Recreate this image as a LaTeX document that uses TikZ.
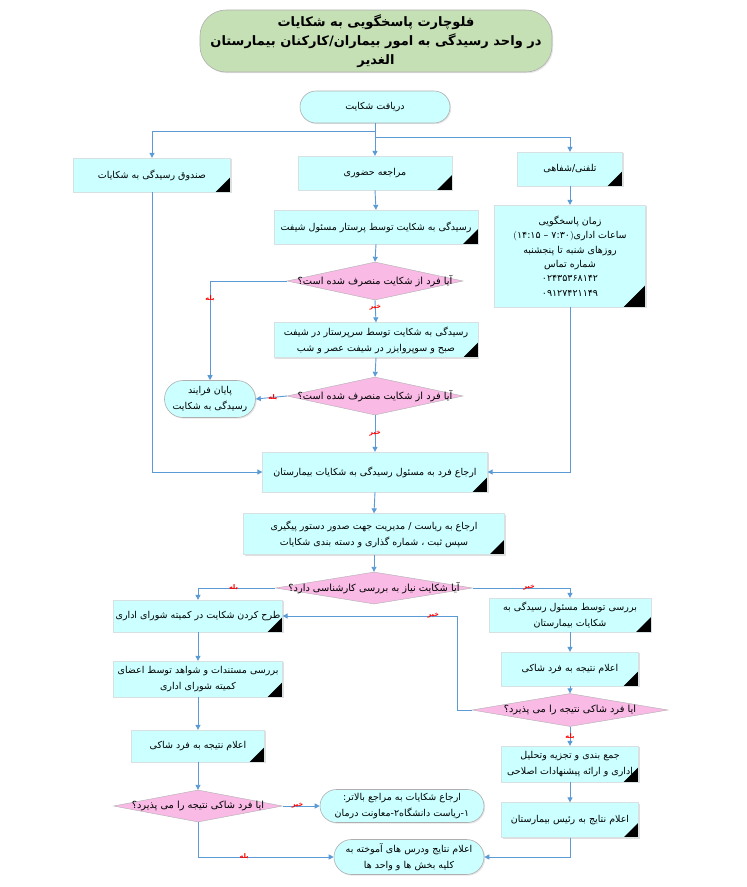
\documentclass[tikz,border=0pt]{standalone}
\usepackage{fontspec}
\newfontfamily\fa[Script=Arabic]{DejaVu Sans}
\TeXXeTstate=1
\usetikzlibrary{
  arrows.meta,      % Triangle arrow tips
  shapes.geometric, % diamond for the decisions
  shapes.misc,      % rounded rectangle for start / end boxes
  shadows,          % soft shadow under the boxes
  positioning       % relative placement
}
\definecolor{boxcyan}{RGB}{204,255,255}
\definecolor{decpink}{RGB}{249,186,230}
\definecolor{titlegreen}{RGB}{197,224,180}
\definecolor{lineblue}{RGB}{91,155,213}
\definecolor{boxedge}{RGB}{215,225,225}
\definecolor{termedge}{RGB}{175,175,175}
\newcommand{\rl}[1]{\beginR #1\endR}
\tikzset{
  flow/.style={
    -{Triangle[length=5pt,width=5pt]},
    draw=lineblue,
    line width=0.9pt
  },
  proc/.style={
    rectangle,
    fill=boxcyan,
    draw=boxedge,
    line width=0.3pt,
    align=center,
    inner sep=2pt,
    font=\fa\fontsize{9.5}{16}\selectfont,
    drop shadow={shadow xshift=1.2pt, shadow yshift=-1.2pt, opacity=0.25},
    path picture={\fill[black] (path picture bounding box.south east) -- ++(0pt,#1) -- ++(-#1,-#1) -- cycle;}
  },
  proc/.default=15pt,
  term/.style={
    rounded rectangle,
    fill=boxcyan,
    draw=termedge,
    line width=0.6pt,
    align=center,
    inner sep=2pt,
    font=\fa\fontsize{9.5}{16}\selectfont,
    drop shadow={shadow xshift=1.2pt, shadow yshift=-1.2pt, opacity=0.2}
  },
  headline/.style={
    rectangle,
    rounded corners=26pt,
    fill=titlegreen,
    draw=termedge,
    line width=0.6pt,
    align=center,
    inner sep=0pt,
    font=\fa\fontsize{13}{19}\selectfont\bfseries,
    drop shadow={shadow xshift=1.2pt, shadow yshift=-1.2pt, opacity=0.2}
  },
  decide/.style={
    diamond,
    fill=decpink,
    draw=termedge,
    line width=0.4pt,
    inner sep=0pt,
    font=\fa\fontsize{9.8}{11}\selectfont
  },
  yesno/.style={
    font=\fa\fontsize{6.5}{6.5}\selectfont\bfseries,
    text=red,
    inner sep=0.5pt
  }
}
\begin{document}
\begin{tikzpicture}[x=1pt, y=-1pt] % pixel grid of the page, y runs downwards
  \path[fill=white, use as bounding box] (0,0) rectangle (747,887); % page frame

  % title
  \node[headline, minimum width=352pt, minimum height=62pt] (title) at (376,41)
    {\rl{فلوچارت پاسخگویی به شکایات}\\\rl{در واحد رسیدگی به امور بیماران/کارکنان بیمارستان}\\\rl{الغدیر}};

  % start and the three ways in
  \node[term, minimum width=154pt, minimum height=32pt] (start) at (375,107) {\rl{دریافت شکایت}};
  \node[proc, minimum width=157pt, minimum height=34pt] (box) at (152,175) {\rl{صندوق رسیدگی به شکایات}};
  \node[proc, minimum width=154pt, minimum height=34pt] (visit) at (375,173) {\rl{مراجعه حضوری}};
  \node[proc, minimum width=105pt, minimum height=34pt] (phone) at (570,169) {\rl{تلفنی/شفاهی}};
  \node[proc=22pt, minimum width=151pt, minimum height=102pt, font=\fa\fontsize{9.5}{14.3}\selectfont] (hours) at (570,256)
    {\rl{زمان پاسخگویی}\\\rl{ساعات اداری\beginL{\normalfont(}۱۴:۱۵ – ۷:۳۰{\normalfont)}\endL}\\\rl{روزهای شنبه تا پنجشنبه}\\\rl{شماره تماس}\\\rl{۰۲۴۳۵۳۶۸۱۴۲}\\\rl{۰۹۱۲۷۴۲۱۱۴۹}};

  % middle column
  \node[proc, minimum width=204pt, minimum height=34pt] (nurse) at (376,227) {\rl{رسیدگی به شکایت توسط پرستار مسئول شیفت}};
  \node[decide, minimum width=176pt, minimum height=38pt] (quit1) at (375,281) {\makebox[0pt]{\rl{آیا فرد از شکایت منصرف شده است؟}}};
  \node[proc, minimum width=204pt, minimum height=35pt] (head) at (376,340)
    {\rl{رسیدگی به شکایت توسط سرپرستار در شیفت}\\\rl{صبح و سوپروایزر در شیفت عصر و شب}};
  \node[decide, minimum width=176pt, minimum height=38pt] (quit2) at (375,396) {\makebox[0pt]{\rl{آیا فرد از شکایت منصرف شده است؟}}};
  \node[term, minimum width=95pt, minimum height=37pt] (stop) at (210,399) {\rl{پایان فرایند}\\\rl{رسیدگی به شکایت}};
  \node[proc, minimum width=225pt, minimum height=40pt] (refer) at (375,472) {\rl{ارجاع فرد به مسئول رسیدگی به شکایات بیمارستان}};
  \node[proc, minimum width=261pt, minimum height=41pt] (chief) at (374,534)
    {\rl{ارجاع  به ریاست / مدیریت  جهت صدور دستور پیگیری}\\\rl{سپس ثبت ، شماره گذاری و دسته بندی شکایات}};
  \node[decide, minimum width=197pt, minimum height=32pt] (expert) at (374,588) {\makebox[0pt]{\rl{آیا شکایت نیاز به بررسی کارشناسی دارد؟}}};

  % left column: committee
  \node[proc, minimum width=169pt, minimum height=32pt] (board) at (198,616) {\rl{طرح کردن شکایت در کمیته شورای اداری}};
  \node[proc, minimum width=169pt, minimum height=36pt] (review) at (198,679)
    {\rl{بررسی مستندات و شواهد توسط اعضای}\\\rl{کمیته شورای اداری}};
  \node[proc, minimum width=133pt, minimum height=32pt] (tellL) at (198,746) {\rl{اعلام نتیجه به فرد شاکی}};
  \node[decide, minimum width=169pt, minimum height=32pt] (acceptL) at (198,806) {\makebox[0pt]{\rl{ایا فرد شاکی نتیجه را می پذیرد؟}}};

  % right column: officer
  \node[proc, minimum width=162pt, minimum height=34pt] (officer) at (570,615)
    {\rl{بررسی توسط مسئول رسیدگی به}\\\rl{شکایات بیمارستان}};
  \node[proc, minimum width=137pt, minimum height=34pt] (tellR) at (570,669) {\rl{اعلام نتیجه به فرد شاکی}};
  \node[decide, minimum width=196pt, minimum height=33pt] (acceptR) at (570,710) {\makebox[0pt]{\rl{ایا فرد شاکی نتیجه را می پذیرد؟}}};
  \node[proc, minimum width=137pt, minimum height=36pt] (sum) at (570,764)
    {\rl{جمع بندی و تجزیه وتحلیل}\\\rl{اداری و ارائه پیشنهادات اصلاحی}};
  \node[proc, minimum width=137pt, minimum height=35pt] (ceo) at (570,820) {\rl{اعلام نتایج به رئیس بیمارستان}};

  % bottom ends
  \node[term, minimum width=168pt, minimum height=33pt] (upper) at (402,806)
    {\rl{ارجاع شکایات به مراجع بالاتر:}\\\rl{۱-ریاست دانشگاه۲-معاونت درمان}};
  \node[term, minimum width=154pt, minimum height=35pt] (lessons) at (409,857)
    {\rl{اعلام نتایج ودرس های آموخته به}\\\rl{کلیه بخش ها و واحد ها}};

  % connectors
  \draw[flow] (start.south) -- ++(0,8) -| (box.north);
  \draw[flow] (start.south) -- (visit.north);
  \draw[flow] (start.south) -- ++(0,14) -| (phone.north);
  \draw[flow] (phone.south) -- (hours.north);
  \draw[flow] (visit.south) -- (nurse.north);
  \draw[flow] (nurse.south) -- (quit1.north);
  \draw[flow] (quit1.west) -| node[yesno, pos=0.59] (yes1) {\rl{بله}} (stop.north);
  \draw[flow] (quit1.south) -- node[yesno, pos=0.35] (no1) {\rl{خیر}} (head.north);
  \draw[flow] (head.south) -- (quit2.north);
  \draw[flow] (quit2.west) -- node[yesno, pos=0.45] (yes2) {\rl{بله}} (stop.east);
  \draw[flow] (quit2.south) -- node[yesno, pos=0.5] (no2) {\rl{خیر}} (refer.north);
  \draw[flow] (box.south) |- (refer.west);
  \draw[flow] (hours.south) |- (refer.east);
  \draw[flow] (refer.south) -- (chief.north);
  \draw[flow] (chief.south) -- (expert.north);
  \draw[flow] (expert.west) -| node[yesno, pos=0.27] (yes3) {\rl{بله}} (board.north);
  \draw[flow] (expert.east) -| node[yesno, pos=0.29] (no3) {\rl{خیر}} (officer.north);
  \draw[flow] (board.south) -- (review.north);
  \draw[flow] (review.south) -- (tellL.north);
  \draw[flow] (tellL.south) -- (acceptL.north);
  \draw[flow] (acceptL.east) -- node[yesno, pos=0.4] (no4) {\rl{خیر}} (upper.west);
  \draw[flow] (acceptL.south) |- node[yesno, pos=0.67] (yes4) {\rl{بله}} (lessons.west);
  \draw[flow] (officer.south) -- (tellR.north);
  \draw[flow] (tellR.south) -- (acceptR.north);
  \draw[flow] (acceptR.west) -- ++(-14,0) |- node[yesno, pos=0.57] (no5) {\rl{خیر}} (board.east);
  \draw[flow] (acceptR.south) -- node[yesno, pos=0.5] (yes5) {\rl{بله}} (sum.north);
  \draw[flow] (sum.south) -- (ceo.north);
  \draw[flow] (ceo.south) |- (lessons.east);
\end{tikzpicture}
\end{document}
